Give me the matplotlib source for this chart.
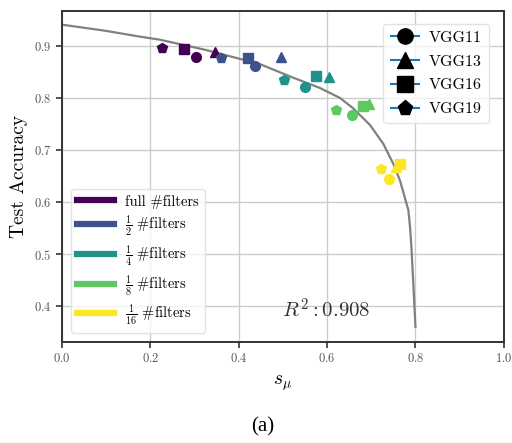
import matplotlib
matplotlib.use("Agg")
import matplotlib.pyplot as plt
from matplotlib.lines import Line2D

plt.rcParams['font.family'] = ['cmr10', 'DejaVu Serif']
plt.rcParams['mathtext.fontset'] = 'cm'
plt.rcParams['axes.formatter.use_mathtext'] = True

# ---- data ----
groups = ['full #filters', r'$\frac{1}{2}$ #filters', r'$\frac{1}{4}$ #filters',
          r'$\frac{1}{8}$ #filters', r'$\frac{1}{16}$ #filters']
group_colors = ['#440154', '#3b528b', '#21918c', '#5ec962', '#fde725']
models = ['VGG11', 'VGG13', 'VGG16', 'VGG19']
model_markers = ['o', '^', 's', 'p']

# s_mu per group, order VGG11, VGG13, VGG16, VGG19
s_mu = [
    [0.303, 0.346, 0.276, 0.226],
    [0.438, 0.495, 0.422, 0.360],
    [0.551, 0.605, 0.574, 0.502],
    [0.657, 0.695, 0.682, 0.621],
    [0.741, 0.757, 0.765, 0.722],
]
acc = [
    [0.880, 0.890, 0.896, 0.898],
    [0.862, 0.879, 0.877, 0.877],
    [0.822, 0.841, 0.844, 0.836],
    [0.768, 0.790, 0.786, 0.778],
    [0.645, 0.667, 0.673, 0.664],
]

fit_x = [0.0, 0.1, 0.176, 0.222, 0.327, 0.448, 0.523, 0.584, 0.629, 0.659,
         0.697, 0.727, 0.750, 0.765, 0.776, 0.784, 0.788, 0.791, 0.795, 0.800]
fit_y = [0.942, 0.930, 0.919, 0.913, 0.893, 0.866, 0.840, 0.820, 0.801, 0.781,
         0.749, 0.713, 0.674, 0.642, 0.609, 0.585, 0.550, 0.512, 0.447, 0.360]
r2_text = r'$R^2: 0.908$'

# ---- figure ----
fig = plt.figure(figsize=(5.12, 4.43), dpi=100)
ax = fig.add_axes([0.121, 0.228, 0.863, 0.748])

ax.plot(fit_x, fit_y, color='#808080', lw=1.6, zorder=2, solid_joinstyle='round')
for gi, col in enumerate(group_colors):
    for mi, mk in enumerate(model_markers):
        ax.plot(s_mu[gi][mi], acc[gi][mi], marker=mk, color=col, ms=7,
                linestyle='none', zorder=3)

ax.set_xlim(0, 1.0)
ax.set_ylim(0.331, 0.969)
ax.set_xticks([0.0, 0.2, 0.4, 0.6, 0.8, 1.0])
ax.set_yticks([0.4, 0.5, 0.6, 0.7, 0.8, 0.9])
ax.grid(True, color='#cccccc', lw=1.0)
ax.set_axisbelow(True)
for sp in ax.spines.values():
    sp.set_color('#333333')
    sp.set_linewidth(1.4)
ax.tick_params(labelsize=9, colors='#333333', length=4, width=1.2, labelcolor='#555555')

ax.set_xlabel(r'$s_\mu$', fontsize=14, labelpad=6)
ax.set_ylabel('Test Accuracy', fontsize=14, labelpad=4)

ax.text(0.498, 0.394, r2_text, fontsize=15, color='#333333', va='center')

h1 = [Line2D([0], [0], color=c, lw=4.5) for c in group_colors]
leg1 = ax.legend(h1, groups, loc='lower left', fontsize=10.5, handlelength=2.5,
                 framealpha=0.8, edgecolor='#dddddd', borderpad=0.4, labelspacing=0.35,
                 bbox_to_anchor=(0.005, 0.005))
ax.add_artist(leg1)

h2 = [Line2D([0], [0], color='#1f77b4', marker=m, markerfacecolor='black',
             markeredgecolor='black', ms=11) for m in model_markers]
ax.legend(h2, models, loc='upper right', fontsize=11.5, handlelength=1.8,
          handletextpad=0.6, framealpha=0.8, edgecolor='#dddddd', borderpad=0.45,
          labelspacing=0.6, bbox_to_anchor=(0.985, 0.985))

fig.text(0.513, 0.025, '(a)', fontsize=15, family='Liberation Serif', ha='center')

fig.savefig('out.png', dpi=100)
